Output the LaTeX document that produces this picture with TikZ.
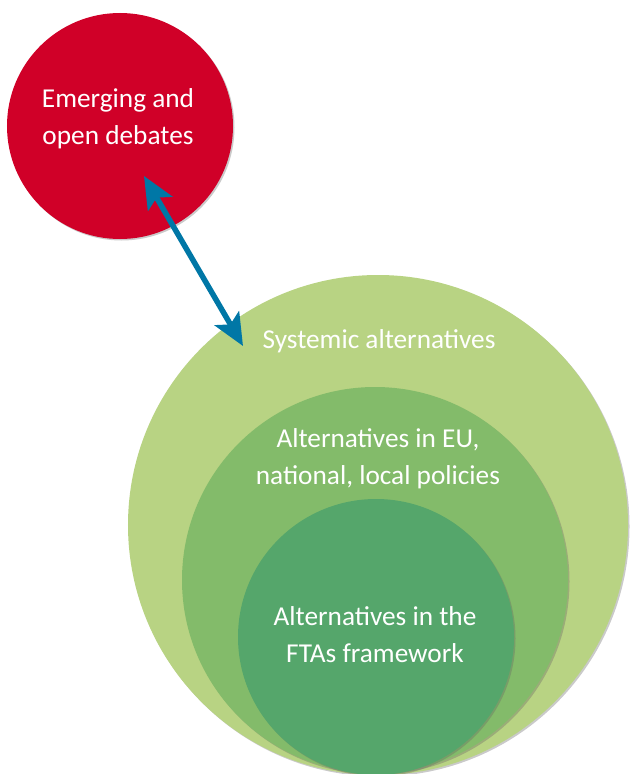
\documentclass[tikz,border=0pt]{standalone}
\usepackage{fontspec}
\setmainfont{Carlito}
\usetikzlibrary{arrows.meta,shadows}
\definecolor{redc}{RGB}{208,0,40}
\definecolor{greenA}{RGB}{184,211,131}
\definecolor{greenB}{RGB}{131,187,106}
\definecolor{greenC}{RGB}{85,166,107}
\definecolor{arrowc}{RGB}{0,119,166}
\begin{document}
\begin{tikzpicture}[x=1bp,y=-1bp,
  disc/.style={circle,inner sep=0pt,draw=none,
    drop shadow={shadow xshift=1.5bp,shadow yshift=-1.5bp,opacity=0.35,fill=black!60}},
  lbl/.style={text=white,align=center,font=\fontsize{27.4}{37}\selectfont},
  link/.style={arrowc,line width=5.5bp,{Stealth[length=32bp,width=28bp,inset=7bp]}-{Stealth[length=32bp,width=28bp,inset=7bp]}}]
\useasboundingbox (0,0) rectangle (630,774);
\node[disc,fill=redc,minimum size=226bp] (red) at (120,126) {};
\node[disc,fill=greenA,minimum size=500bp] (big) at (378,525) {};
\node[disc,fill=greenB,minimum size=386bp] (mid) at (375,580) {};
\node[disc,fill=greenC,minimum size=276bp] (inn) at (376,637) {};
\node[lbl] (tred) at (118,118.5) {Emerging and\\open debates};
\node[lbl] (tbig) at (379,341) {Systemic alternatives};
\node[lbl] (tmid) at (378,459) {Alternatives in EU,\\national, local policies};
\node[lbl] (tinn) at (375,635) {Alternatives in the\\FTAs framework};
\coordinate (a1) at (144,176);
\coordinate (a2) at (243,346);
\draw[link] (a1) -- (a2);
\end{tikzpicture}
\end{document}
